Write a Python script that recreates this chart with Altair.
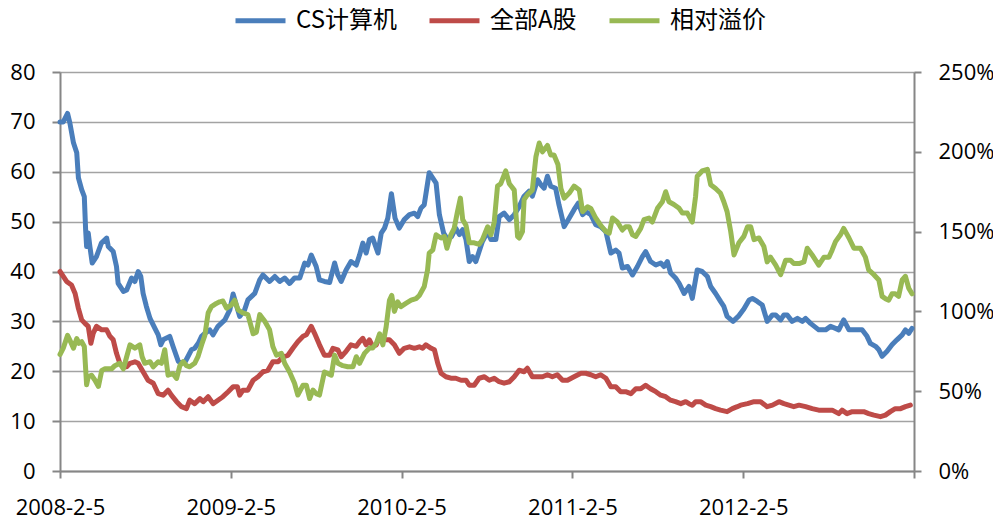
import altair as alt
import pandas as pd

series_names = ["CS计算机", "全部A股", "相对溢价"]
series_colors = ["#4A7EBB", "#BE4B48", "#98B954"]

x_tick_weeks = [0, 52, 104, 156, 208, 260]
x_tick_labels = ["2008-2-5", "2009-2-5", "2010-2-5", "2011-2-5", "2012-2-5", ""]
left_ticks = [0, 10, 20, 30, 40, 50, 60, 70, 80]
right_ticks = [0, 0.5, 1.0, 1.5, 2.0, 2.5]

# weeks since 2008-2-5 and values
blue_weeks = [0, 1.0, 2.3, 3.0, 4.1, 5.1, 5.6, 6.6, 7.4, 7.8, 8.1, 8.6, 9.1, 9.8, 11.1, 12.6, 14.2, 14.7,
              16.2, 17.2, 17.7, 19.3, 20.3, 21.8, 22.8, 23.8, 24.6, 25.3, 26.3, 27.4, 28.9, 29.9, 30.7,
              31.4, 33.4, 34.4, 36.0, 36.8, 38.2, 39.0, 40.0, 41.0, 42.1, 43.1, 44.1, 45.6, 46.6, 48.1,
              50.2, 51.7, 52.7, 54.7, 56.2, 57.2, 59.3, 60.8, 61.8, 63.8, 65.4, 66.9, 68.4, 69.9, 71.4,
              73.0, 74.5, 75.5, 76.5, 78.0, 79.0, 80.5, 82.1, 83.6, 84.6, 85.6, 87.1, 88.6, 90.2, 91.2,
              92.2, 93.2, 94.2, 95.2, 96.8, 97.8, 98.8, 99.8, 100.9, 102.0, 103.3, 104.8, 106.4, 107.9,
              108.9, 109.9, 110.9, 112.4, 113.5, 114.5, 115.5, 116.8, 118.0, 119.2, 120.5, 121.6, 122.6,
              123.6, 124.6, 125.6, 126.6, 127.6, 128.6, 130.2, 131.2, 132.7, 133.7, 135.2, 136.8, 138.3,
              139.8, 141.3, 142.8, 143.8, 145.4, 146.4, 147.4, 148.4, 149.4, 150.9, 151.9, 153.5, 155.0,
              156.5, 157.8, 159.1, 160.1, 161.6, 163.1, 164.6, 166.2, 167.7, 169.2, 170.2, 171.2, 172.8,
              174.3, 175.8, 177.3, 178.3, 179.8, 181.4, 182.9, 183.9, 184.9, 185.9, 187.4, 188.5, 190.0,
              191.5, 192.5, 194.0, 195.5, 197.1, 198.1, 199.6, 201.1, 202.1, 203.1, 204.9, 206.5, 208.2,
              209.8, 210.8, 212.3, 213.8, 215.3, 216.9, 217.9, 219.4, 220.4, 221.4, 222.9, 224.5, 226.0,
              227.0, 228.5, 231.0, 233.1, 234.6, 236.1, 237.1, 238.6, 240.2, 242.2, 244.2, 245.7, 246.7,
              248.3, 249.3, 250.3, 251.8, 253.3, 254.8, 256.4, 257.4, 258.4, 259.4]
blue_vals = [70, 70, 71.7, 69.8, 65.8, 63.8, 58.8, 56.4, 55, 48.4, 45, 47.7, 45, 41.7, 43, 45.7, 46.7, 45,
             44, 41, 37.6, 36, 36.3, 38.7, 38, 40, 39, 35.6, 33, 30.6, 28.6, 27.3, 25.3,
             26.3, 27, 25, 22, 21.6, 22, 23, 24.3, 24.6, 25.6, 27, 27.6, 28.3, 27.3, 29,
             30.3, 32.3, 35.5, 31, 32.3, 34.3, 35.6, 38.3, 39.3, 38, 39, 38, 38.7, 37.6, 38.7,
             38.7, 41.7, 41.3, 43.3, 41, 38.3, 38, 37.8, 41.7, 39.3, 38, 40.3, 42, 41.3, 43.3,
             45.7, 43.7, 46.4, 46.7, 43.7, 47.7, 48.7, 50.7, 55.6, 50.7, 48.7, 50.4, 51.4, 51.7,
             51, 52.7, 53.4, 59.8, 58.7, 57.7, 51.4, 47.7, 46.4, 47, 48.7, 47.4, 48.4,
             46.4, 42, 43, 42, 44, 46, 48, 46.4, 46.4, 51, 51.7, 50.4, 51.4,
             53, 55.1, 56.1, 55.1, 58.4, 57.4, 56.7, 59.1, 57.1, 56.7, 53.4, 49, 50.7,
             52.4, 53.7, 51.4, 52, 51.4, 49.4, 49, 48, 43.7, 44.3, 43.7, 40.7, 41,
             39.3, 41, 43, 44, 42, 41.3, 41.7, 41, 42, 39.7, 38.7, 37.6, 35.6,
             37, 34.6, 40.3, 40, 39, 37, 35.6, 34, 33, 31, 30, 31, 32.5,
             34.3, 34.6, 34, 33.3, 30, 31.3, 31.3, 30.3, 31.3, 31.3, 30, 30.6, 30,
             30.6, 29.6, 28.3, 28.3, 29, 28.6, 28.3, 30.3, 28.3, 28.3, 28.3, 27, 25.6,
             25, 24.3, 23, 24, 25.3, 26.3, 27.3, 28.3, 27.6, 28.6]

red_weeks = [0, 1.0, 2.0, 3.5, 4.6, 5.6, 6.6, 7.6, 8.6, 9.4, 10.1, 11.1, 12.7, 14.2, 15.2, 16.2, 17.2,
             18.2, 19.3, 20.3, 21.3, 22.8, 23.8, 25.3, 26.8, 28.4, 29.9, 31.4, 32.9, 33.9, 35.5, 37.0,
             38.5, 39.5, 41.0, 42.6, 43.6, 45.1, 46.6, 48.1, 49.6, 51.2, 52.7, 54.0, 54.7, 55.7, 57.2,
             58.8, 60.3, 61.8, 63.3, 64.8, 66.4, 67.9, 69.4, 70.9, 72.4, 74.0, 75.0, 76.5, 77.5, 79.0,
             80.5, 82.1, 83.1, 84.6, 85.6, 87.1, 88.6, 90.2, 91.2, 92.2, 93.2, 94.2, 95.2, 96.3, 97.3,
             98.8, 100.3, 101.8, 103.3, 104.8, 106.4, 107.9, 109.4, 110.4, 111.4, 113.0, 114.0, 115.0,
             116.0, 117.5, 119.0, 120.5, 122.1, 123.6, 124.6, 126.1, 127.6, 129.2, 130.7, 132.2, 133.7,
             135.2, 136.8, 138.3, 139.8, 141.3, 142.3, 143.8, 145.4, 146.9, 148.4, 149.9, 151.4, 153.0,
             154.5, 156.5, 158.6, 160.1, 161.6, 163.1, 164.6, 166.2, 167.7, 169.2, 170.7, 172.2, 173.8,
             175.3, 176.8, 178.3, 179.8, 181.4, 182.9, 184.4, 185.9, 187.4, 189.0, 190.5, 191.5, 192.5,
             193.5, 195.0, 196.6, 198.1, 199.6, 201.1, 203.1, 204.7, 206.2, 207.2, 209.3, 211.3, 213.3,
             215.3, 216.9, 218.9, 220.4, 221.9, 223.4, 225.0, 227.0, 229.0, 231.0, 233.1, 235.1, 237.1,
             238.1, 239.6, 241.2, 243.2, 244.7, 246.2, 247.8, 249.8, 251.3, 252.8, 254.3, 255.9, 257.4,
             258.9]
red_vals = [40, 39, 38, 37.3, 35.6, 32.6, 30.3, 29.6, 29, 25.6, 27.6, 29, 28.3, 28.3, 27, 26.3, 23.6,
            21.6, 20.9, 20.9, 21.6, 21.9, 21.6, 19.9, 18.2, 17.6, 15.5, 15.2, 16.2, 15.2, 13.9, 12.9,
            12.5, 14.2, 13.5, 14.5, 13.9, 14.9, 13.5, 14.2, 14.9, 15.9, 16.9, 16.9, 15.2, 16.2, 16.2,
            18.2, 18.9, 19.9, 20.2, 21.9, 21.9, 22.9, 23.2, 24.6, 25.9, 27, 27.3, 29, 27.6, 25.3,
            23.2, 23.2, 24.6, 24.3, 22.9, 24, 25.3, 25, 25.9, 26.6, 25.3, 26.3, 25, 25.3, 27,
            26.3, 26.3, 25.3, 23.6, 24.6, 24.9, 24.6, 24.9, 24.6, 25.3, 24.6, 24.3, 21.6,
            19.6, 18.9, 18.6, 18.6, 18.2, 18.2, 17.2, 17.2, 18.6, 18.9, 18.2, 18.6, 17.9,
            17.6, 17.9, 18.9, 20.2, 19.9, 20.6, 18.9, 18.9, 18.9, 19.3, 18.9, 19.3, 18.2,
            18.2, 18.9, 19.6, 19.6, 19.3, 18.9, 19.3, 18.6, 16.9, 16.9, 15.9, 15.9, 15.5,
            16.5, 16.5, 17.2, 16.5, 15.9, 15.2, 14.9, 14.2, 13.9, 13.5, 13.9, 13.5, 13.2,
            13.9, 13.9, 13.2, 12.9, 12.5, 12.2, 11.9, 12.5, 12.9, 13.2, 13.5, 13.9, 13.9,
            12.9, 13.2, 13.9, 13.5, 13.2, 12.9, 13.2, 12.9, 12.5, 12.2, 12.2, 12.2, 11.5,
            12.2, 11.5, 11.9, 11.9, 11.9, 11.5, 11.2, 10.9, 11.2, 11.9, 12.5, 12.5, 12.9,
            13.2]

green_weeks = [0, 1.0, 2.3, 3.0, 4.1, 5.1, 5.8, 6.6, 7.4, 8.1, 8.6, 9.6, 10.6, 11.7, 12.7, 13.7, 15.7,
               16.7, 18.2, 19.3, 20.3, 21.3, 22.8, 24.3, 25.0, 25.8, 27.4, 28.4, 29.9, 30.9, 31.9, 32.9,
               34.4, 35.5, 36.5, 37.5, 38.5, 39.5, 41.0, 42.0, 43.1, 44.1, 45.1, 46.1, 47.6, 48.6, 49.6,
               50.7, 52.2, 53.2, 54.2, 55.7, 57.2, 58.8, 59.8, 60.8, 62.3, 63.8, 64.8, 65.9, 67.4, 68.4,
               69.9, 71.4, 72.4, 74.0, 75.0, 76.0, 77.0, 78.0, 79.0, 80.5, 81.6, 82.6, 83.6, 84.6, 86.1,
               87.6, 89.2, 90.2, 91.2, 92.7, 94.2, 95.2, 96.3, 97.3, 98.3, 99.3, 100.3, 101.0, 101.8,
               102.8, 103.8, 105.3, 106.9, 108.4, 109.4, 110.9, 111.9, 112.4, 113.5, 114.5, 116.0, 117.0,
               117.8, 119.0, 120.0, 121.0, 121.9, 122.6, 123.6, 124.6, 126.1, 127.6, 128.6, 130.2, 131.2,
               132.2, 133.2, 134.2, 135.7, 136.8, 138.3, 139.3, 139.8, 140.8, 141.3, 142.3, 143.8, 144.9,
               145.9, 146.9, 148.4, 149.4, 150.4, 151.6, 152.5, 153.5, 155.0, 156.5, 158.1, 159.1, 160.6,
               161.6, 163.1, 164.6, 166.2, 167.2, 168.2, 169.7, 171.2, 172.2, 173.3, 174.3, 175.3, 176.8,
               177.8, 179.3, 180.3, 181.9, 183.4, 184.4, 185.4, 186.9, 188.5, 189.5, 191.0, 192.5, 193.5,
               194.0, 195.5, 197.1, 198.1, 199.6, 201.1, 202.1, 203.1, 204.2, 205.2, 206.7, 208.2, 209.3,
               210.3, 211.3, 212.8, 214.3, 215.3, 216.3, 217.9, 219.4, 220.9, 222.4, 223.4, 225.0, 226.5,
               227.5, 229.0, 231.0, 232.6, 234.1, 235.1, 236.1, 237.6, 238.6, 240.2, 241.7, 243.7, 245.2,
               246.2, 247.8, 249.3, 250.3, 251.3, 252.3, 253.3, 254.3, 255.3, 256.4, 257.4, 258.4, 259.4]
green_pct = [73, 77, 85, 82, 77, 83, 80, 81, 78, 54, 59, 60, 57, 53, 63, 64, 64,
             66, 67.5, 64, 71.6, 79, 77, 79, 71.6, 67.5, 68.5, 65.3, 68.5, 67.5, 76, 60,
             61, 58, 66, 68.5, 66, 65.3, 67.5, 71.6, 79, 85, 99, 103, 105, 106, 106.5,
             102, 104, 107, 101, 99, 98, 86, 87, 98, 94, 88.5, 78, 72.6, 73.7, 67.5,
             62, 55, 47.6, 53.8, 53.8, 45.4, 50.7, 48.5, 47.6, 62, 61, 60, 72.6, 67.5, 66,
             65.3, 65.3, 71.6, 67.5, 73.7, 77, 77, 80, 86, 79, 90.4, 107, 110, 100,
             106, 103, 105, 107, 108, 110, 115.6, 126, 136.5, 138.5, 148, 146, 147,
             139.6, 148, 152, 162.5, 171, 157.5, 154, 143, 143, 142, 145, 153, 148,
             156, 178.5, 180, 188, 180, 176, 147, 146, 150, 170, 173, 176, 197,
             205.5, 200, 204, 198, 198, 192, 177, 171, 174, 178.5, 176, 162.5, 165.6,
             164.5, 158.5, 154, 150, 149, 158.5, 156, 151, 153, 153, 148, 147, 152,
             157.5, 158.5, 156, 164.6, 168.7, 175, 168.7, 167, 164.6, 161.6, 161.6, 156, 172,
             184.7, 188, 189, 179.4, 177, 174, 168.7, 162.5, 150, 135.4, 143, 147, 153,
             153, 145, 146, 140.6, 131, 134, 129, 123, 132, 132, 130, 130, 131,
             139.6, 135.4, 129, 134, 134, 138.5, 143.7, 148, 152, 146, 139.6, 139.6, 134,
             126, 123, 119.7, 109.4, 108, 107, 111, 111, 109.4, 119.7, 122, 114.5, 111]

left_df = pd.concat([
    pd.DataFrame({"week": blue_weeks, "value": blue_vals, "series": series_names[0]}),
    pd.DataFrame({"week": red_weeks, "value": red_vals, "series": series_names[1]}),
], ignore_index=True)
right_df = pd.DataFrame({"week": green_weeks,
                         "value": [v / 100 for v in green_pct],
                         "series": series_names[2]})

label_expr = "".join(f"datum.value == {w} ? '{l}' : " for w, l in zip(x_tick_weeks, x_tick_labels)) + "''"

AX_COL = "#868686"
NUM_FONT = "Open Sans"

color = alt.Color(
    "series:N",
    scale=alt.Scale(domain=series_names, range=series_colors),
    sort=series_names,
    legend=alt.Legend(
        title=None, orient="none", direction="horizontal",
        legendX=173, legendY=-79,
        symbolType="stroke", symbolSize=2500, symbolStrokeWidth=5,
        labelFont="Noto Sans CJK SC", labelFontSize=24, labelColor="#000000",
        labelOffset=8, columnPadding=22, padding=0, labelLimit=300,
    ),
)

x = alt.X(
    "week:Q",
    scale=alt.Scale(domain=[0, 260], nice=False, zero=False),
    axis=alt.Axis(
        title=None, values=x_tick_weeks, labelExpr=label_expr, grid=False,
        domainColor=AX_COL, domainWidth=2, tickColor=AX_COL, tickWidth=2, tickSize=7,
        labelFont=NUM_FONT, labelFontSize=22, labelColor="#000000", labelPadding=19,
        labelFlush=False, labelOverlap=False,
    ),
)

line_props = dict(strokeWidth=5, strokeJoin="round", strokeCap="round")

left = alt.Chart(left_df).mark_line(**line_props).encode(
    x=x,
    y=alt.Y(
        "value:Q",
        scale=alt.Scale(domain=[0, 80], nice=False),
        axis=alt.Axis(
            title=None, values=left_ticks, grid=True, gridColor="#A3A3A3", gridWidth=1.6,
            domainColor=AX_COL, domainWidth=2, tickColor=AX_COL, tickWidth=2, tickSize=8,
            labelFont=NUM_FONT, labelFontSize=22, labelColor="#000000", labelPadding=17,
        ),
    ),
    color=color,
)

right = alt.Chart(right_df).mark_line(**line_props).encode(
    x=x,
    y=alt.Y(
        "value:Q",
        scale=alt.Scale(domain=[0, 2.5], nice=False),
        axis=alt.Axis(
            title=None, orient="right", values=right_ticks, format=".0%", grid=False,
            domainColor=AX_COL, domainWidth=2, tickColor=AX_COL, tickWidth=2, tickSize=7,
            labelFont=NUM_FONT, labelFontSize=22, labelColor="#000000", labelPadding=17,
        ),
    ),
    color=color,
)

chart = (
    alt.layer(left, right)
    .resolve_scale(y="independent")
    .properties(
        width=854, height=399,
        autosize=alt.AutoSizeParams(type="none"),
        padding={"left": 52, "top": 64, "right": 79, "bottom": 50},
    )
    .configure_view(stroke=None)
    .configure(background="#FFFFFF")
)

chart.save("out.html", embed_options={"renderer": "svg", "actions": False})
